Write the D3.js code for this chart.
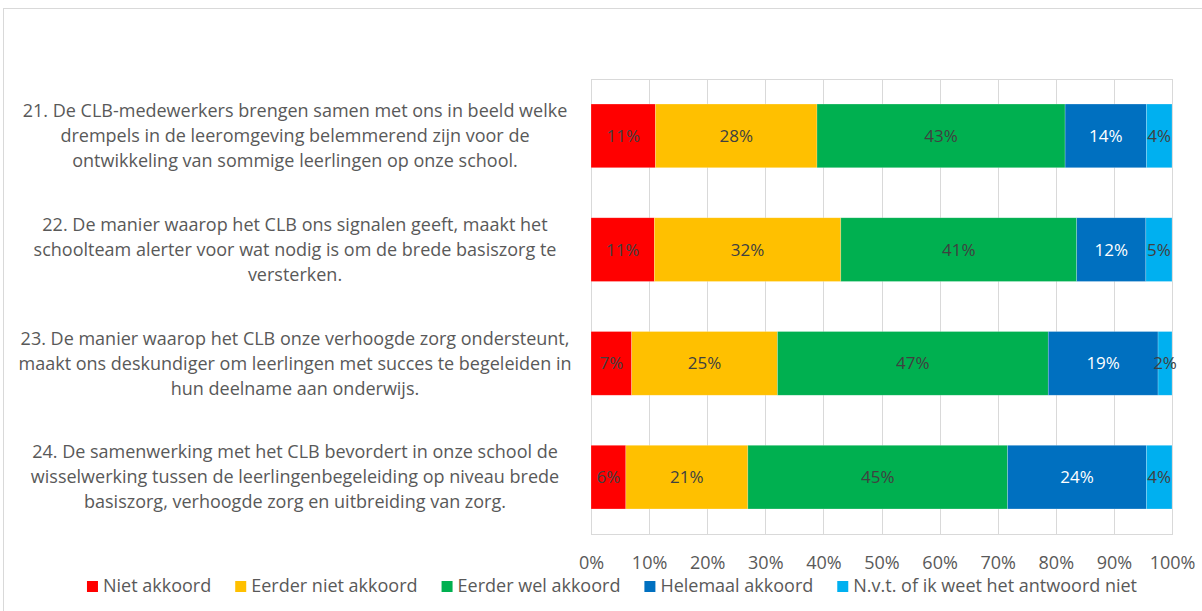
<!DOCTYPE html>
<html>
<head>
<meta charset="utf-8">
<script src="https://cdn.jsdelivr.net/npm/d3@7/dist/d3.min.js"></script>
<style>
  html, body { margin: 0; padding: 0; background: #fff; }
  svg { display: block; font-family: "Open Sans", "Noto Sans", sans-serif; }
</style>
</head>
<body>
<svg id="chart" width="1202" height="611"></svg>
<script>
// categories (each question split into its display lines)
const questions = ["Q21", "Q22", "Q23", "Q24"];
const questionLines = [
  ["21. De CLB-medewerkers brengen samen met ons in beeld welke",
   "drempels in de leeromgeving belemmerend zijn voor de",
   "ontwikkeling van sommige leerlingen op onze school."],
  ["22. De manier waarop het CLB ons signalen geeft, maakt het",
   "schoolteam alerter voor wat nodig is om de brede basiszorg te",
   "versterken."],
  ["23. De manier waarop het CLB onze verhoogde zorg ondersteunt,",
   "maakt ons deskundiger om leerlingen met succes te begeleiden in",
   "hun deelname aan onderwijs."],
  ["24. De samenwerking met het CLB bevordert in onze school de",
   "wisselwerking tussen de leerlingenbegeleiding op niveau brede",
   "basiszorg, verhoogde zorg en uitbreiding van zorg."]
];

// series (percent per question, in the order of questions)
const seriesNames = ["Niet akkoord", "Eerder niet akkoord", "Eerder wel akkoord",
                     "Helemaal akkoord", "N.v.t. of ik weet het antwoord niet"];
const nietAkkoord       = [11.1, 10.9, 7.0, 6.0];
const eerderNietAkkoord = [27.8, 32.1, 25.1, 21.0];
const eerderWelAkkoord  = [42.7, 40.6, 46.6, 44.7];
const helemaalAkkoord   = [14.0, 11.9, 18.9, 23.9];
const nvt               = [4.4, 4.5, 2.4, 4.4];

const tickValues = [0, 10, 20, 30, 40, 50, 60, 70, 80, 90, 100];
const tickLabels = ["0%", "10%", "20%", "30%", "40%", "50%", "60%", "70%", "80%", "90%", "100%"];

const colors = ["#FF0000", "#FFC000", "#00B050", "#0070C0", "#00B0F0"];
const labelColors = ["#404040", "#404040", "#404040", "#ffffff", "#404040"];

const svg = d3.select("#chart");
const plot = { left: 591, right: 1172, top: 79, bottom: 534 };

// outer chart border
svg.append("rect")
  .attr("x", 3.5).attr("y", 8.5)
  .attr("width", 1300).attr("height", 700)
  .attr("fill", "#fff")
  .attr("stroke", "#d9d9d9");

const x = d3.scaleLinear().domain([0, 100]).range([plot.left, plot.right]);
const y = d3.scaleBand().domain(questions).range([plot.top, plot.bottom])
  .paddingInner(0.44).paddingOuter(0.22);

// gridlines
svg.append("g")
  .selectAll("line")
  .data(tickValues)
  .join("line")
    .attr("x1", d => Math.round(x(d)) + 0.5)
    .attr("x2", d => Math.round(x(d)) + 0.5)
    .attr("y1", plot.top)
    .attr("y2", plot.bottom)
    .attr("stroke", "#d9d9d9")
    .attr("stroke-width", 1);

svg.append("rect")
  .attr("x", Math.round(x(0)) + 0.5)
  .attr("y", plot.top + 0.5)
  .attr("width", Math.round(x(100)) - Math.round(x(0)))
  .attr("height", plot.bottom - plot.top)
  .attr("fill", "none")
  .attr("stroke", "#d9d9d9");

// stack data
const table = questions.map((q, i) => ({
  q,
  [seriesNames[0]]: nietAkkoord[i],
  [seriesNames[1]]: eerderNietAkkoord[i],
  [seriesNames[2]]: eerderWelAkkoord[i],
  [seriesNames[3]]: helemaalAkkoord[i],
  [seriesNames[4]]: nvt[i]
}));
const stacked = d3.stack().keys(seriesNames)(table);

const layers = svg.append("g")
  .selectAll("g")
  .data(stacked)
  .join("g")
    .attr("fill", (d, i) => colors[i]);

layers.selectAll("rect")
  .data(d => d)
  .join("rect")
    .attr("x", d => x(d[0]))
    .attr("y", d => y(d.data.q))
    .attr("width", d => x(d[1]) - x(d[0]))
    .attr("height", y.bandwidth())
    .attr("stroke", "#fff")
    .attr("stroke-opacity", 0.35)
    .attr("stroke-width", 0.6);

// data labels
stacked.forEach((layer, si) => {
  svg.append("g")
    .selectAll("text")
    .data(layer)
    .join("text")
      .attr("x", d => (x(d[0]) + x(d[1])) / 2)
      .attr("y", d => y(d.data.q) + y.bandwidth() / 2)
      .attr("dy", "0.35em")
      .attr("text-anchor", "middle")
      .attr("fill", labelColors[si])
      .style("font-size", "17px")
      .text(d => Math.round(d[1] - d[0]) + "%");
});

// x axis labels
const xAxis = d3.axisBottom(x)
  .tickValues(tickValues)
  .tickFormat((d, i) => tickLabels[i])
  .tickSize(0)
  .tickPadding(22);
const xAxisG = svg.append("g")
  .attr("transform", `translate(0,${plot.bottom})`)
  .call(xAxis);
xAxisG.select(".domain").remove();
xAxisG.selectAll("text")
  .attr("fill", "#595959")
  .style("font-size", "18px")
  .style("font-family", "'Open Sans', sans-serif");

// category labels
const catG = svg.append("g");
questions.forEach((q, i) => {
  const lines = questionLines[i];
  const cy = y(q) + y.bandwidth() / 2;
  const lh = 25;
  catG.append("text")
    .attr("text-anchor", "middle")
    .attr("fill", "#595959")
    .style("font-size", "18px")
    .selectAll("tspan")
    .data(lines)
    .join("tspan")
      .attr("x", 295)
      .attr("y", (d, j) => cy + (j - (lines.length - 1) / 2) * lh)
      .attr("dy", "0.35em")
      .text(d => d);
});

// legend
const legend = svg.append("g");
const legendY = 586;
const gap = 24;
let lx = 0;
seriesNames.forEach((name, i) => {
  const g = legend.append("g");
  g.append("rect")
    .attr("x", 0).attr("y", legendY - 5)
    .attr("width", 11).attr("height", 11)
    .attr("fill", colors[i]);
  const t = g.append("text")
    .attr("x", 16).attr("y", legendY)
    .attr("dy", "0.35em")
    .attr("fill", "#595959")
    .style("font-size", "18px")
    .text(name);
  const w = 16 + t.node().getComputedTextLength();
  g.attr("transform", `translate(${lx},0)`);
  lx += w + gap;
});
const legendW = lx - gap;
legend.attr("transform", `translate(${612 - legendW / 2},0)`);
</script>
</body>
</html>
